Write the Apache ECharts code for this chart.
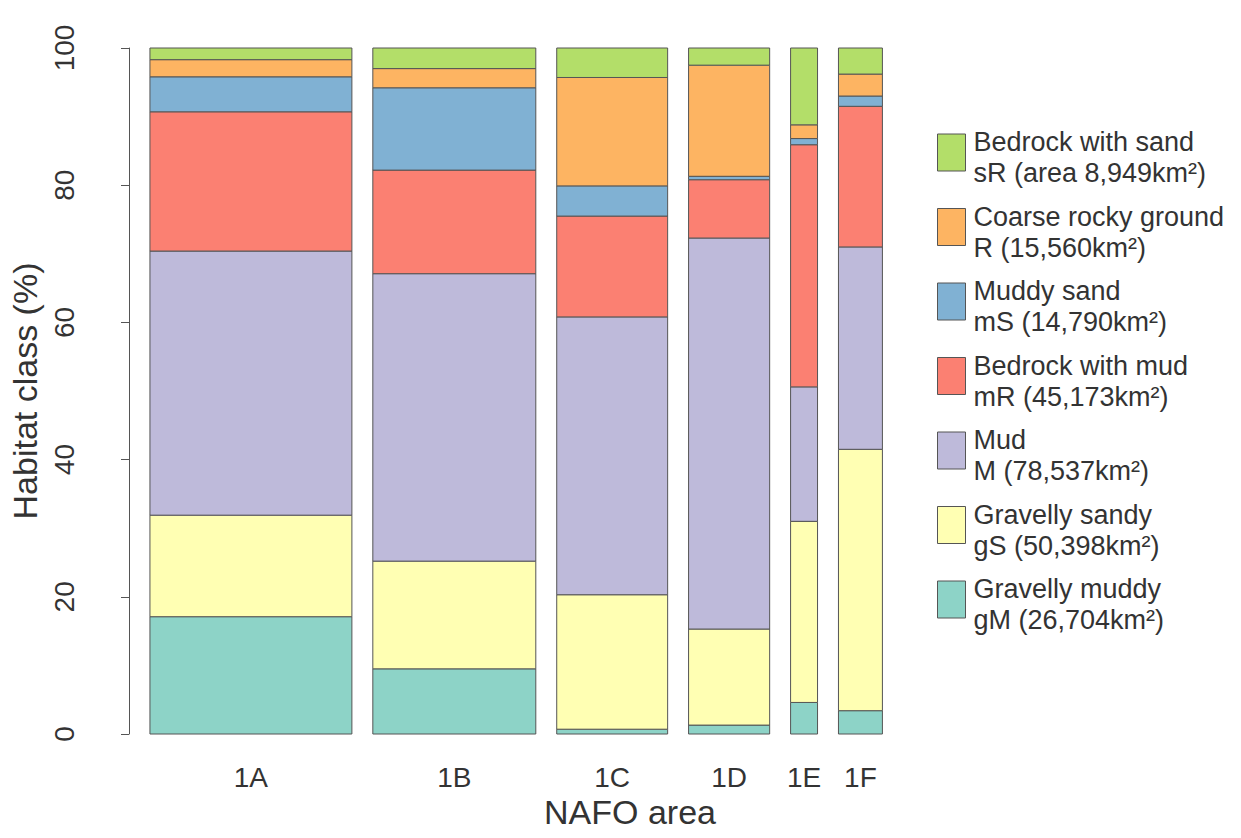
<!DOCTYPE html>
<html>
<head>
<meta charset="utf-8">
<script src="https://cdn.jsdelivr.net/npm/echarts@6/dist/echarts.min.js"></script>
<style>
  html, body { margin: 0; padding: 0; background: #fff; }
  #chart { width: 1241px; height: 838px; }
</style>
</head>
<body>
<div id="chart"></div>
<script>
// NAFO areas and their (bar width) areas in km2
var areaNames = ['1A', '1B', '1C', '1D', '1E', '1F'];
var areaKm2 = [77200, 62300, 42400, 31000, 10300, 16800];

// habitat class shares (%) per area, bottom to top
var classCodes = ['gM', 'gS', 'M', 'mR', 'mS', 'R', 'sR'];
var gM = [17.1, 9.5, 0.7, 1.3, 4.6, 3.4];
var gS = [14.8, 15.7, 19.6, 14.0, 26.4, 38.1];
var M = [38.5, 41.9, 40.5, 57.0, 19.6, 29.5];
var mR = [20.3, 15.1, 14.7, 8.5, 35.3, 20.5];
var mS = [5.1, 12.0, 4.4, 0.5, 0.9, 1.5];
var R = [2.5, 2.8, 15.8, 16.2, 2.0, 3.2];
var sR = [1.7, 3.0, 4.3, 2.5, 11.2, 3.8];
var classValues = [gM, gS, M, mR, mS, R, sR];

var classColors = ['#8DD3C7', '#FFFFB3', '#BEBADA', '#FB8072', '#80B1D3', '#FDB462', '#B3DE69'];
var legendLines = {
    sR: ['Bedrock with sand', 'sR (area 8,949km²)'],
    R: ['Coarse rocky ground', 'R (15,560km²)'],
    mS: ['Muddy sand', 'mS (14,790km²)'],
    mR: ['Bedrock with mud', 'mR (45,173km²)'],
    M: ['Mud', 'M (78,537km²)'],
    gS: ['Gravelly sandy', 'gS (50,398km²)'],
    gM: ['Gravelly muddy', 'gM (26,704km²)']
};
var yTicks = [0, 20, 40, 60, 80, 100];

// bar positions like barplot(width = area, space = 0.2)
var total = areaKm2.reduce(function (a, b) { return a + b; }, 0);
var gap = 0.2 * total / areaKm2.length;
var barStart = [], x = 0;
areaKm2.forEach(function (w) {
    x += gap;
    barStart.push(x);
    x += w;
});

var fontFamily = '"Liberation Sans", Arial, sans-serif';

var series = classCodes.map(function (code, k) {
    var data = areaNames.map(function (n, i) {
        var base = 0;
        for (var j = 0; j < k; j++) base += classValues[j][i];
        return [barStart[i], barStart[i] + areaKm2[i], base, base + classValues[k][i]];
    });
    return {
        name: code,
        type: 'custom',
        itemStyle: { color: classColors[k], borderColor: '#555', borderWidth: 1 },
        renderItem: function (params, api) {
            var p0 = api.coord([api.value(0), api.value(3)]);
            var p1 = api.coord([api.value(1), api.value(2)]);
            return {
                type: 'rect',
                shape: { x: p0[0], y: p0[1], width: p1[0] - p0[0], height: p1[1] - p0[1] },
                style: { fill: api.visual('color'), stroke: '#555', lineWidth: 1 }
            };
        },
        encode: { x: [0, 1], y: [2, 3] },
        data: data
    };
});

// area labels under the bars
series.push({
    name: 'areaLabels',
    type: 'custom',
    silent: true,
    renderItem: function (params, api) {
        var p = api.coord([api.value(0), 0]);
        return {
            type: 'text',
            x: p[0], y: p[1] + 43,
            style: {
                text: areaNames[params.dataIndex], fill: '#333',
                font: '28px ' + fontFamily, align: 'center', verticalAlign: 'middle'
            }
        };
    },
    encode: { x: 0, y: 1 },
    data: areaNames.map(function (n, i) { return [barStart[i] + areaKm2[i] / 2, 0]; })
});

var chart = echarts.init(document.getElementById('chart'), null, { renderer: 'svg' });
chart.setOption({
    backgroundColor: '#fff',
    animation: false,
    textStyle: { fontFamily: fontFamily },
    grid: { left: 92, right: 73, top: 48, bottom: 104 },
    legend: {
        orient: 'vertical',
        left: 937,
        top: 121,
        padding: 0,
        itemWidth: 28,
        itemHeight: 37,
        itemGap: 9,
        icon: 'rect',
        selectedMode: false,
        data: ['sR', 'R', 'mS', 'mR', 'M', 'gS', 'gM'],
        formatter: function (name) {
            var l = legendLines[name];
            return '{g| }\n{t|' + l[0] + '}\n{t|' + l[1] + '}';
        },
        itemStyle: { borderColor: '#555', borderWidth: 1 },
        textStyle: {
            color: '#333', padding: [0, 0, 0, 3],
            rich: {
                g: { fontSize: 1, lineHeight: 10 },
                t: { fontSize: 27, lineHeight: 31, color: '#333' }
            }
        }
    },
    xAxis: {
        type: 'value',
        min: -14149,
        max: 397170,
        name: 'NAFO area',
        nameLocation: 'middle',
        nameGap: 61,
        nameTextStyle: { fontSize: 34, color: '#333' },
        axisLine: { show: false },
        axisTick: { show: false },
        axisLabel: { show: false },
        splitLine: { show: false }
    },
    yAxis: {
        type: 'value',
        min: 0,
        max: 100,
        interval: 20,
        name: 'Habitat class (%)',
        nameLocation: 'middle',
        nameGap: 48,
        nameRotate: 90,
        nameTextStyle: { fontSize: 34, color: '#333' },
        axisLine: { show: true, lineStyle: { color: '#555', width: 1 } },
        axisTick: { show: true, length: 8, lineStyle: { color: '#555' } },
        axisLabel: {
            rotate: 90, fontSize: 28, color: '#333', margin: 14,
            formatter: function (v) { return yTicks.indexOf(v) >= 0 ? String(v) : ''; }
        },
        splitLine: { show: false }
    },
    series: series
});
</script>
</body>
</html>
